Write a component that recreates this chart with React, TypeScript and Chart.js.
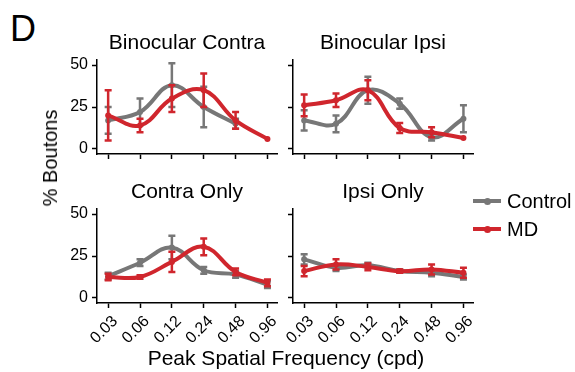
import React, { useEffect, useRef } from 'react';
import { Chart, registerables } from 'chart.js';

Chart.register(...registerables);

// ---------- data ----------
const freqLabels = ['0.03', '0.06', '0.12', '0.24', '0.48', '0.96'];
const yTickValues = [0, 25, 50];

const binoContraControl = [17, 22, 38, 25, 15];
const binoContraControlErr = [8, 8, 13, 12, 3];
const binoContraMD = [20, 14, 30, 35, 17, 6];
const binoContraMDErr = [15, 4, 8, 10, 5, 0];

const binoIpsiControl = [17, 15, 35, 27, 7, 18];
const binoIpsiControlErr = [6, 5, 8, 3, 2, 8];
const binoIpsiMD = [26, 29, 35, 12.5, 10, 6.5];
const binoIpsiMDErr = [6.5, 4, 6, 3, 3, 0];

const contraOnlyControl = [13, 21, 30, 16.5, 14, 8];
const contraOnlyControlErr = [2, 2, 7, 2, 2, 2];
const contraOnlyMD = [12.5, 12.5, 21.5, 30.5, 15.5, 9];
const contraOnlyMDErr = [2, 1, 6, 5, 2, 2];

const ipsiOnlyControl = [23, 18, 19.5, 16, 15, 12.5];
const ipsiOnlyControlErr = [3, 2, 1.5, 1, 2, 1.5];
const ipsiOnlyMD = [16, 20, 18.5, 16, 17, 15];
const ipsiOnlyMDErr = [3, 3, 2, 1, 3, 3];

const seriesNames = ['Control', 'MD'];
const CONTROL_COLOR = '#777777';
const MD_COLOR = '#d0262d';
const FONT = '"Liberation Sans", Arial, Helvetica, sans-serif';

// ---------- error bar plugin ----------
const errorBarPlugin = {
  id: 'errorBars',
  afterDatasetDraw(chart: any, args: any) {
    const ds = chart.data.datasets[args.index];
    const errs = ds.errors;
    if (!errs) return;
    const ctx = chart.ctx;
    const xs = chart.scales.x;
    const ys = chart.scales.y;
    ctx.save();
    ctx.strokeStyle = ds.borderColor;
    ctx.lineWidth = 2.5;
    ctx.lineCap = 'butt';
    ds.data.forEach((p: any, i: number) => {
      const e = errs[i];
      if (!e) return;
      const x = xs.getPixelForValue(p.x);
      const yTop = ys.getPixelForValue(p.y + e);
      const yBot = ys.getPixelForValue(p.y - e);
      const cap = 3.5;
      ctx.beginPath();
      ctx.moveTo(x, yTop);
      ctx.lineTo(x, yBot);
      ctx.moveTo(x - cap, yTop);
      ctx.lineTo(x + cap, yTop);
      ctx.moveTo(x - cap, yBot);
      ctx.lineTo(x + cap, yBot);
      ctx.stroke();
    });
    ctx.restore();
  },
};

type PanelProps = {
  areaLeft: number;
  areaTop: number;
  title: string;
  showX: boolean;
  showY: boolean;
  control: number[];
  controlErr: number[];
  md: number[];
  mdErr: number[];
};

const AREA_W = 180;
const AREA_H = 94;
const Y_W = 50;
const X_H = 60;
const PAD_TOP = 20;
const PAD_RIGHT = 12;

function Panel(props: PanelProps) {
  const ref = useRef<HTMLCanvasElement | null>(null);
  useEffect(() => {
    if (!ref.current) return;
    const mk = (vals: number[]) => vals.map((v, i) => ({ x: i, y: v }));
    const lineDs = (label: string, vals: number[], errs: number[], color: string, order: number) => ({
      label,
      data: mk(vals),
      errors: errs,
      borderColor: color,
      backgroundColor: color,
      borderWidth: 4,
      tension: 0.4,
      pointRadius: 3,
      pointBorderWidth: 0,
      pointBackgroundColor: color,
      fill: false,
      clip: false,
      order,
    });
    const tickFont = { size: 16, family: FONT };
    const chart = new Chart(ref.current, {
      type: 'line',
      data: {
        datasets: [
          lineDs(seriesNames[0], props.control, props.controlErr, CONTROL_COLOR, 1) as any,
          lineDs(seriesNames[1], props.md, props.mdErr, MD_COLOR, 0) as any,
        ],
      },
      options: {
        responsive: false,
        animation: false,
        devicePixelRatio: 1,
        layout: { padding: { top: PAD_TOP, right: PAD_RIGHT, left: 0, bottom: 0 } },
        plugins: { legend: { display: false }, tooltip: { enabled: false }, title: { display: false } },
        scales: {
          x: {
            type: 'linear',
            min: -0.35,
            max: 5.3,
            afterBuildTicks: (s: any) => {
              s.ticks = freqLabels.map((_, i) => ({ value: i }));
            },
            afterFit: (s: any) => {
              s.height = X_H;
            },
            grid: { drawOnChartArea: false, drawTicks: true, tickLength: 5, tickWidth: 1.5, tickColor: '#000' },
            border: { display: true, color: '#000', width: 1.5 },
            ticks: {
              display: props.showX,
              autoSkip: false,
              maxRotation: 45,
              minRotation: 45,
              padding: 4,
              labelOffset: 7,
              color: '#000',
              font: tickFont,
              callback: (v: any) => freqLabels[Math.round(Number(v))],
            },
          },
          y: {
            type: 'linear',
            min: -3,
            max: 53,
            afterBuildTicks: (s: any) => {
              s.ticks = yTickValues.map((v) => ({ value: v }));
            },
            afterFit: (s: any) => {
              s.width = Y_W;
            },
            grid: { drawOnChartArea: false, drawTicks: true, tickLength: 5, tickWidth: 1.5, tickColor: '#000' },
            border: { display: true, color: '#000', width: 1.5 },
            ticks: {
              display: props.showY,
              padding: 4,
              color: '#000',
              font: tickFont,
            },
          },
        },
      } as any,
      plugins: [errorBarPlugin as any],
    });
    return () => chart.destroy();
  }, []);

  const left = props.areaLeft - Y_W;
  const top = props.areaTop - PAD_TOP;
  const w = Y_W + AREA_W + PAD_RIGHT;
  const h = PAD_TOP + AREA_H + X_H;
  return (
    <>
      <canvas
        ref={ref}
        width={w}
        height={h}
        style={{ position: 'absolute', left, top, width: w, height: h }}
      />
      <div
        style={{
          position: 'absolute',
          left: props.areaLeft - 20,
          top: props.areaTop - 29,
          width: AREA_W + 40,
          textAlign: 'center',
          fontSize: 21,
          lineHeight: '21px',
          fontFamily: FONT,
          color: '#000',
          whiteSpace: 'nowrap',
        }}
      >
        {props.title}
      </div>
    </>
  );
}

export default function App() {
  const legendItem = (label: string, color: string, y: number) => (
    <div key={label}>
      <div style={{ position: 'absolute', left: 473, top: y - 2, width: 28, height: 4, background: color }} />
      <div
        style={{
          position: 'absolute',
          left: 484,
          top: y - 3.5,
          width: 7,
          height: 7,
          borderRadius: '50%',
          background: color,
        }}
      />
      <div
        style={{
          position: 'absolute',
          left: 507,
          top: y - 11,
          fontSize: 20,
          lineHeight: '22px',
          fontFamily: FONT,
          color: '#000',
          whiteSpace: 'nowrap',
        }}
      >
        {label}
      </div>
    </div>
  );

  return (
    <div
      style={{
        position: 'absolute',
        left: 0,
        top: 0,
        width: 575,
        height: 372,
        background: '#fff',
        overflow: 'hidden',
        fontFamily: FONT,
      }}
    >
      <div style={{ position: 'absolute', left: 10, top: 11, fontSize: 36, lineHeight: '36px', color: '#000' }}>D</div>
      <Panel
        areaLeft={97}
        areaTop={60}
        title="Binocular Contra"
        showX={false}
        showY={true}
        control={binoContraControl}
        controlErr={binoContraControlErr}
        md={binoContraMD}
        mdErr={binoContraMDErr}
      />
      <Panel
        areaLeft={293}
        areaTop={60}
        title="Binocular Ipsi"
        showX={false}
        showY={false}
        control={binoIpsiControl}
        controlErr={binoIpsiControlErr}
        md={binoIpsiMD}
        mdErr={binoIpsiMDErr}
      />
      <Panel
        areaLeft={97}
        areaTop={209}
        title="Contra Only"
        showX={true}
        showY={true}
        control={contraOnlyControl}
        controlErr={contraOnlyControlErr}
        md={contraOnlyMD}
        mdErr={contraOnlyMDErr}
      />
      <Panel
        areaLeft={293}
        areaTop={209}
        title="Ipsi Only"
        showX={true}
        showY={false}
        control={ipsiOnlyControl}
        controlErr={ipsiOnlyControlErr}
        md={ipsiOnlyMD}
        mdErr={ipsiOnlyMDErr}
      />
      <div
        style={{
          position: 'absolute',
          left: 50,
          top: 158,
          transform: 'translate(-50%, -50%) rotate(-90deg)',
          fontSize: 20,
          lineHeight: '20px',
          whiteSpace: 'nowrap',
          color: '#000',
        }}
      >
        % Boutons
      </div>
      <div
        style={{
          position: 'absolute',
          left: 86,
          top: 347,
          width: 400,
          textAlign: 'center',
          fontSize: 21,
          lineHeight: '21px',
          whiteSpace: 'nowrap',
          color: '#000',
        }}
      >
        Peak Spatial Frequency (cpd)
      </div>
      {legendItem(seriesNames[0], CONTROL_COLOR, 201)}
      {legendItem(seriesNames[1], MD_COLOR, 229)}
    </div>
  );
}
